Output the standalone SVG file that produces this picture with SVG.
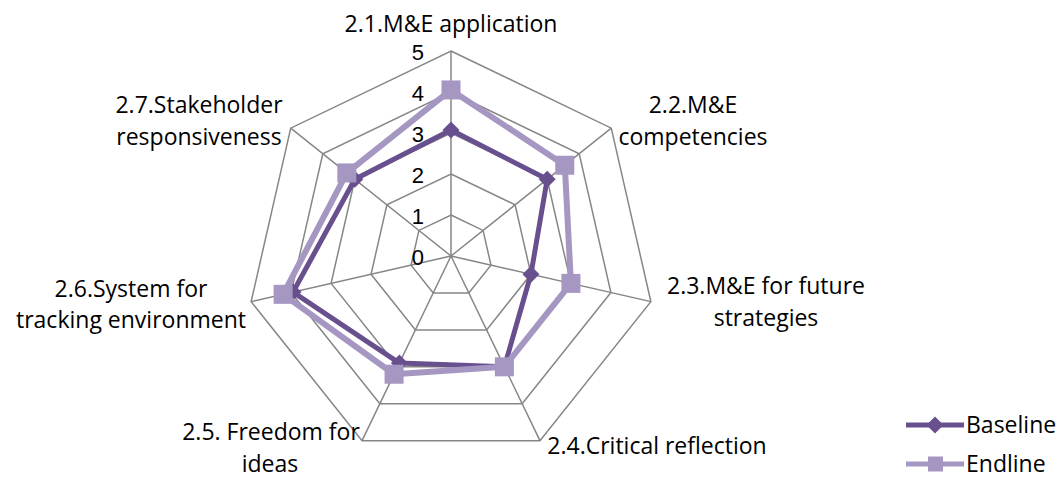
<svg xmlns="http://www.w3.org/2000/svg" width="1059" height="485" viewBox="0 0 1059 485">
<style>
.grid{fill:none;stroke:#868686;stroke-width:1.5}
.lbl{font-family:"Open Sans","Liberation Sans",sans-serif;font-size:23px;fill:#000;text-anchor:middle}
.num{font-family:"Liberation Sans","Open Sans",sans-serif;font-size:22px;fill:#000;text-anchor:end}
.base{fill:none;stroke:#68508F;stroke-width:5;stroke-linejoin:round}
.end{fill:none;stroke:#A597C1;stroke-width:6;stroke-linejoin:round}
.bm{fill:#68508F}
.em{fill:#A597C1}
</style>
<defs>
<path id="dia" d="M0,-8.5 L8.5,0 L0,8.5 L-8.5,0 Z"/>
<rect id="sq" x="-9.5" y="-9.5" width="19" height="19"/>
</defs>
<rect width="1059" height="485" fill="#fff"/>
<g id="grid" transform="translate(451,256)">
<polygon class="grid" points="0,-41 32.06,-25.56 39.97,9.12 17.79,36.94 -17.79,36.94 -39.97,9.12 -32.06,-25.56"/>
<polygon class="grid" points="0,-82 64.11,-51.13 79.94,18.25 35.58,73.88 -35.58,73.88 -79.94,18.25 -64.11,-51.13"/>
<polygon class="grid" points="0,-123 96.17,-76.69 119.92,27.37 53.37,110.82 -53.37,110.82 -119.92,27.37 -96.17,-76.69"/>
<polygon class="grid" points="0,-164 128.22,-102.25 159.89,36.49 71.16,147.76 -71.16,147.76 -159.89,36.49 -128.22,-102.25"/>
<polygon class="grid" points="0,-205 160.28,-127.82 199.86,45.62 88.95,184.70 -88.95,184.70 -199.86,45.62 -160.28,-127.82"/>
<path class="grid" d="M0,0 L0,-205 M0,0 L160.28,-127.82 M0,0 L199.86,45.62 M0,0 L88.95,184.70 M0,0 L-88.95,184.70 M0,0 L-199.86,45.62 M0,0 L-160.28,-127.82"/>
</g>
<g id="scale">
<text class="num" x="424" y="265">0</text>
<text class="num" x="424" y="224">1</text>
<text class="num" x="424" y="183">2</text>
<text class="num" x="424" y="142">3</text>
<text class="num" x="424" y="101">4</text>
<text class="num" x="424" y="60">5</text>
</g>
<g id="connectors" transform="translate(451,256)">
<polygon id="baseline-series" class="base" points="0,-125.9 96.17,-76.69 79.94,18.25 53.37,110.82 -51.59,107.12 -157.94,36.05 -96.17,-76.69"/>
<g id="baseline-markers" class="bm">
<use href="#dia" x="0" y="-125.9"/>
<use href="#dia" x="96.17" y="-76.69"/>
<use href="#dia" x="79.94" y="18.25"/>
<use href="#dia" x="53.37" y="110.82"/>
<use href="#dia" x="-51.59" y="107.12"/>
<use href="#dia" x="-157.94" y="36.05"/>
<use href="#dia" x="-96.17" y="-76.69"/>
</g>
<polygon id="endline-series" class="end" points="0,-166.05 113.79,-90.75 119.92,27.37 53.37,110.82 -56.93,118.21 -167.88,38.32 -104.18,-83.08"/>
<g id="endline-markers" class="em">
<use href="#sq" x="0" y="-166.05"/>
<use href="#sq" x="113.79" y="-90.75"/>
<use href="#sq" x="119.92" y="27.37"/>
<use href="#sq" x="53.37" y="110.82"/>
<use href="#sq" x="-56.93" y="118.21"/>
<use href="#sq" x="-167.88" y="38.32"/>
<use href="#sq" x="-104.18" y="-83.08"/>
</g>
</g>
<g id="axis-labels">
<g id="ax1"><text class="lbl" x="451" y="32">2.1.M&amp;E application</text></g>
<g id="ax2"><text class="lbl" x="693" y="113">2.2.M&amp;E</text><text class="lbl" x="693" y="145">competencies</text></g>
<g id="ax3"><text class="lbl" x="766" y="294">2.3.M&amp;E for future</text><text class="lbl" x="766" y="326">strategies</text></g>
<g id="ax4"><text class="lbl" x="657" y="454">2.4.Critical reflection</text></g>
<g id="ax5"><text class="lbl" x="271" y="440">2.5. Freedom for</text><text class="lbl" x="270" y="472">ideas</text></g>
<g id="ax6"><text class="lbl" x="131" y="297">2.6.System for</text><text class="lbl" x="131" y="328">tracking environment</text></g>
<g id="ax7"><text class="lbl" x="199" y="113">2.7.Stakeholder</text><text class="lbl" x="199" y="145">responsiveness</text></g>
</g>
<g id="legend">
<g id="leg-baseline">
<line x1="906" y1="425" x2="964" y2="425" stroke="#68508F" stroke-width="5"/>
<use href="#dia" x="935" y="425" class="bm"/>
<text x="966" y="433" font-family="Open Sans, Liberation Sans, sans-serif" font-size="23">Baseline</text>
</g>
<g id="leg-endline">
<line x1="906" y1="464" x2="964" y2="464" stroke="#A597C1" stroke-width="5"/>
<rect x="928" y="456.5" width="15" height="15" fill="#A597C1"/>
<text x="966" y="472" font-family="Open Sans, Liberation Sans, sans-serif" font-size="23">Endline</text>
</g>
</g>
</svg>
